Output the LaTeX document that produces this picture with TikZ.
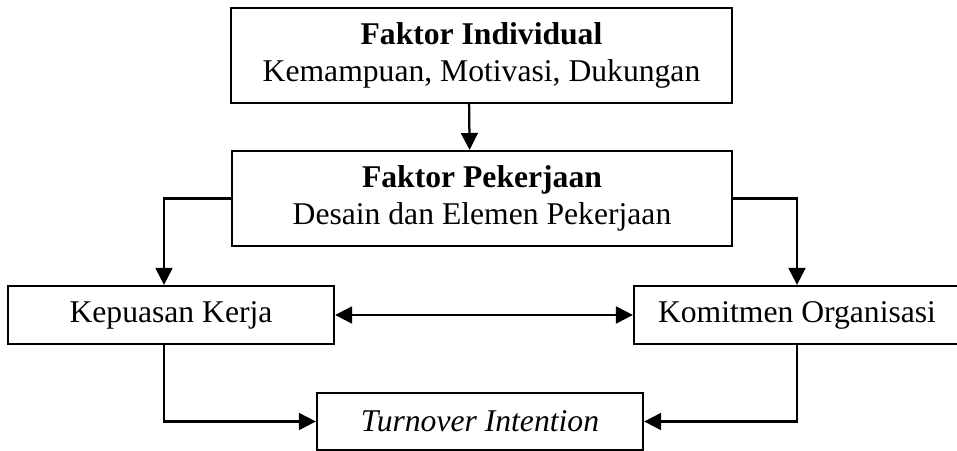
\documentclass[tikz,border=0pt]{standalone}
\usepackage{fontspec}
\setmainfont{Liberation Serif}
\usetikzlibrary{arrows.meta}

\begin{document}
\begin{tikzpicture}[x=0.025cm, y=-0.025cm,
    box/.style={draw, line width=1.6pt, inner sep=0pt, align=center,
        font=\fontsize{22.5}{26.5}\selectfont},
    arr/.style={line width=1.6pt, -{Triangle[length=12pt,width=12pt]}},
    darr/.style={line width=1.6pt, {Triangle[length=12pt,width=12pt]}-{Triangle[length=12pt,width=12pt]}}]
        \useasboundingbox (0,0) rectangle (957,451);
        % Factors
        \node[box, minimum width=12.525cm, minimum height=2.375cm] (indiv) at (481.5,55.5)
            {\textbf{Faktor Individual}\\Kemampuan, Motivasi, Dukungan};
        \node[box, minimum width=12.5cm, minimum height=2.375cm] (kerja) at (482,198.5)
            {\textbf{Faktor Pekerjaan}\\Desain dan Elemen Pekerjaan};
        
        % Attitudes
        \node[box, minimum width=8.15cm, minimum height=1.45cm] (puas) at (171,315) {Kepuasan Kerja};
        \node[box, minimum width=8.15cm, minimum height=1.45cm] (komit) at (797,315) {Komitmen Organisasi};
        
        % Outcome
        \node[box, minimum width=8.15cm, minimum height=1.425cm] (turn) at (480,421.5) {\textit{Turnover Intention}};
        
        % Links
        \draw[arr] ([xshift=-0.31cm]indiv.south) -- ([xshift=-0.31cm]kerja.north);
        \draw[arr] (kerja.west) -| ([xshift=-0.175cm]puas.north);
        \draw[arr] (kerja.east) -| (komit.north);
        \draw[darr] (puas.east) -- (komit.west);
        \draw[arr] ([xshift=-0.175cm]puas.south) |- (turn.west);
        \draw[arr] (komit.south) |- (turn.east);
    \end{tikzpicture}
\end{document}
